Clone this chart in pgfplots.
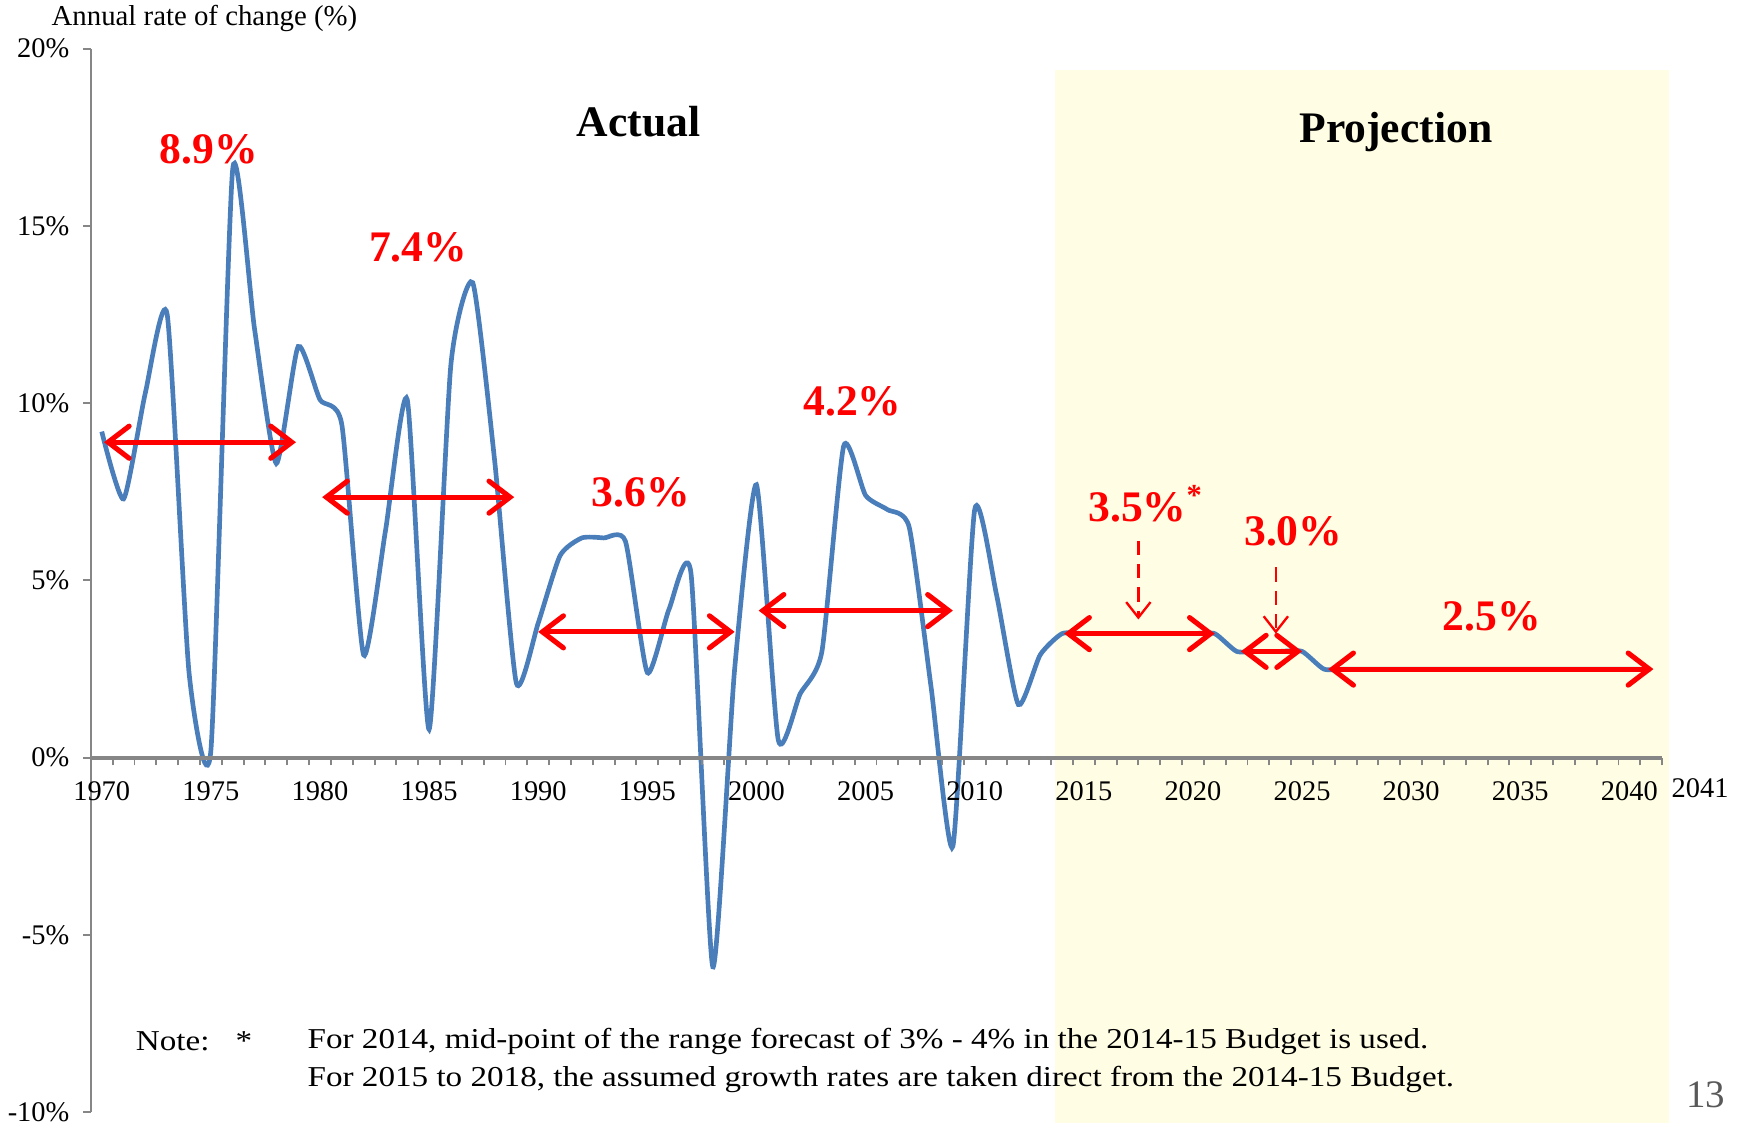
\documentclass[border=0pt]{standalone}
\usepackage{pgfplots}
\pgfplotsset{compat=1.18}
\usepackage{fontspec}
\setmainfont{Liberation Serif}
\newfontfamily\notefont{Liberation Serif}[FakeStretch=1.15]
\usetikzlibrary{arrows.meta}

\definecolor{xlblue}{RGB}{74,126,187}
\definecolor{projfill}{RGB}{255,254,228}
\definecolor{axgray}{RGB}{134,134,134}
\definecolor{pagegray}{RGB}{89,89,89}

\begin{document}
\begin{tikzpicture}
\useasboundingbox (-8.2mm,-1mm) rectangle (148.6mm,100.4mm);
\begin{axis}[
    at={(0,0)}, anchor=south west,
    scale only axis, width=141.84mm, height=96mm,
    xmin=1969.5, xmax=2041.5, ymin=-10, ymax=20,
    axis x line*=middle, axis y line*=left,
    clip=false, axis on top,
    tick align=outside,
    xtick={1970,1975,...,2040},
    xticklabels={1970,1975,1980,1985,1990,1995,2000,2005,2010,2015,2020,2025,2030,2035,2040},
    minor xtick={1969.5,1970.5,...,2041.5},
    major x tick style={draw=none},
    minor tick length=0.7mm,
    major tick length=0.7mm,
    ytick={-10,-5,...,20},
    yticklabels={-10\%,-5\%,0\%,5\%,10\%,15\%,20\%},
    tick style={axgray, line width=0.5pt},
    x axis line style={axgray, line width=1pt},
    y axis line style={axgray, line width=0.5pt},
    tick label style={font=\fontsize{7.3}{9}\selectfont, text=black},
    xticklabel style={yshift=-0.25mm},
    yticklabel style={xshift=0mm},
]
% projection shading
\fill[projfill] (axis cs:2013.66,-10.31) rectangle (axis cs:2041.8,19.4);

\addplot[xlblue, line width=1.2pt, smooth, tension=0.35] coordinates {
(1970,9.2) (1971,7.3) (1972,10.3) (1973,12.5) (1974,2.4) (1975,0.2)
(1976,16.6) (1977,12.1) (1978,8.3) (1979,11.6) (1980,10.1) (1981,9.4)
(1982,2.9) (1983,6.4) (1984,10.1) (1985,0.8) (1986,11.1) (1987,13.4)
(1988,8.4) (1989,2.1) (1990,3.8) (1991,5.7) (1992,6.2) (1993,6.2)
(1994,6.1) (1995,2.4) (1996,4.2) (1997,5.2) (1998,-5.9) (1999,2.5)
(2000,7.7) (2001,0.5) (2002,1.8) (2003,3.0) (2004,8.8) (2005,7.4)
(2006,7.0) (2007,6.5) (2008,2.0) (2009,-2.5) (2010,7.0) (2011,4.6)
(2012,1.5) (2013,2.9) (2014,3.5) (2015,3.5) (2016,3.5) (2017,3.5)
(2018,3.5) (2019,3.5) (2020,3.5) (2021,3.5) (2022,3.0) (2023,3.0)
(2024,3.0) (2025,3.0) (2026,2.5) (2027,2.5) (2028,2.5) (2029,2.5)
(2030,2.5) (2031,2.5) (2032,2.5) (2033,2.5) (2034,2.5) (2035,2.5)
(2036,2.5) (2037,2.5) (2038,2.5) (2039,2.5) (2040,2.5) (2041,2.5)
};

% period average arrows
\begin{scope}[red, line width=1.3pt,
    {Straight Barb[length=1.9mm, width=2.9mm, line cap=round]}-{Straight Barb[length=1.9mm, width=2.9mm, line cap=round]}]
\draw (axis cs:1970.1,8.9) -- (axis cs:1978.9,8.9);
\draw (axis cs:1980.1,7.35) -- (axis cs:1988.9,7.35);
\draw (axis cs:1990.0,3.55) -- (axis cs:1999.0,3.55);
\draw (axis cs:2000.1,4.15) -- (axis cs:2009.0,4.15);
\draw (axis cs:2014.1,3.5) -- (axis cs:2021.0,3.5);
\draw (axis cs:2022.2,3.0) -- (axis cs:2025.0,3.0);
\draw (axis cs:2026.2,2.5) -- (axis cs:2041.1,2.5);
\end{scope}

\draw[red, line width=0.6pt, dash pattern=on 1.3mm off 0.8mm, -{Straight Barb[length=1.4mm, width=2.2mm]}]
  (axis cs:2017.5,6.12) -- (axis cs:2017.5,3.9);
\draw[red, line width=0.6pt, dash pattern=on 1.3mm off 0.8mm, -{Straight Barb[length=1.4mm, width=2.2mm]}]
  (axis cs:2023.8,5.37) -- (axis cs:2023.8,3.5);

\begin{scope}[every node/.style={font=\fontsize{11.2}{13}\selectfont\bfseries, text=red}]
\node at (axis cs:1974.9,17.15) {8.9\%};
\node at (axis cs:1984.5,14.4) {7.4\%};
\node at (axis cs:1994.7,7.5) {3.6\%};
\node at (axis cs:2004.4,10.06) {4.2\%};
\node at (axis cs:2017.46,7.16) {3.5\%\rlap{\textsuperscript{*}}};
\node at (axis cs:2024.6,6.38) {3.0\%};
\node at (axis cs:2033.7,4.0) {2.5\%};
\end{scope}

\node[font=\fontsize{11.2}{13}\selectfont\bfseries] at (axis cs:1994.6,17.94) {Actual};
\node[font=\fontsize{11.2}{13}\selectfont\bfseries] at (axis cs:2029.3,17.66) {Projection};

\node[anchor=west, font=\fontsize{7.4}{9}\selectfont, inner sep=0pt] at (axis cs:1967.67,20.84) {Annual rate of change (\%)};
\node[anchor=west, font=\fontsize{7.3}{9}\selectfont, inner sep=0pt] at (axis cs:2041.9,-0.85) {2041};
\node[font=\fontsize{10}{12}\selectfont, text=pagegray] at (axis cs:2043.5,-9.5) {13};

\begin{scope}[every node/.style={anchor=west, inner sep=0pt, font=\notefont\fontsize{7.4}{9}\selectfont}]
\node at (axis cs:1971.53,-8.0) {Note:};
\node at (axis cs:1976.1,-8.0) {*};
\node at (axis cs:1979.4,-8.0) {For 2014, mid-point of the range forecast of 3\% - 4\% in the 2014-15 Budget is used.};
\node at (axis cs:1979.4,-9.09) {For 2015 to 2018, the assumed growth rates are taken direct from the 2014-15 Budget.};
\end{scope}
\end{axis}
\end{tikzpicture}
\end{document}
